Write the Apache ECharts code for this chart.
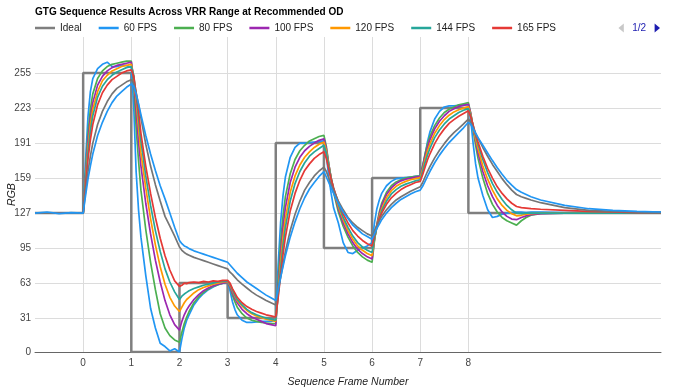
<!DOCTYPE html>
<html><head><meta charset="utf-8">
<script src="https://cdn.jsdelivr.net/npm/echarts@6/dist/echarts.min.js"></script>
<style>html,body{margin:0;padding:0;background:#fff}#c{width:675px;height:390px}</style>
</head><body><div id="c"></div>
<script>
const titleText = 'GTG Sequence Results Across VRR Range at Recommended OD';
const xTitle = 'Sequence Frame Number';
const yTitle = 'RGB';
const xTicks = [0,1,2,3,4,5,6,7,8];
const yTicks = [0,31,63,95,127,159,191,223,255];
const seriesNames = ['Ideal','60 FPS','80 FPS','100 FPS','120 FPS','144 FPS','165 FPS','200 FPS','240 FPS'];

const idealX = [-1,0,0,1,1,2,2,3,3,4,4,5,5,6,6,7,7,8,8,12];
const idealY = [127,127,255,255,0,0,63,63,31,31,191,191,95,95,159,159,223,223,127,127];

const T = [-1,-0.75,-0.5,-0.25,
0,0.05,0.1,0.15,0.2,0.3,0.4,0.5,0.6,0.7,0.8,0.9,
1,1.05,1.1,1.15,1.2,1.3,1.4,1.5,1.6,1.7,1.8,1.9,
2,2.05,2.1,2.15,2.2,2.3,2.4,2.5,2.6,2.7,2.8,2.9,
3,3.05,3.1,3.15,3.2,3.3,3.4,3.5,3.6,3.7,3.8,3.9,
4,4.05,4.1,4.15,4.2,4.3,4.4,4.5,4.6,4.7,4.8,4.9,
5,5.05,5.1,5.15,5.2,5.3,5.4,5.5,5.6,5.7,5.8,5.9,
6,6.05,6.1,6.15,6.2,6.3,6.4,6.5,6.6,6.7,6.8,6.9,
7,7.05,7.1,7.15,7.2,7.3,7.4,7.5,7.6,7.7,7.8,7.9,
8,8.05,8.1,8.15,8.2,8.3,8.4,8.5,8.6,8.7,8.8,8.9,
9,9.1,9.2,9.3,9.5,10,10.5,11,11.5,12];

const fps60 = [127,127,127,127,
127,175,215,238,250,259,263,265,261,261,262,262,
260,225,165,130,105,70,40,22,8,5,1,3,
0,12,22,29,34,43,49,53.5,57,59.5,61.5,63,
64,56,46,39,34,29,27,27,27.5,28,28,28,
29,80,118,143,160,178,187,191,191,191.5,192,192.5,
193,180,160,145,132,118,100,91,90,93,95,97,
100,118,131,139,145,152,156,158.5,159,159.5,160,160.5,
161,170,180,192,201,213,220,224,225,225,225.5,226,
226,212,190,172,159,143,130,123,124,126,127,127.5,
128,128,127.5,128,128,127.5,128,127.5,127.5,128];

const fps80 = [127,127,127,127,
127,165,200,222,236,250,257,261,263,264,265,266,
266,245,205,175,148,112,82,57,35,22,15,11,
9,18,26,32,37,45,50.5,54.5,57.5,60,61.5,63,
64,59,52,46,41,35,31,29,28,27,26.5,26,
26,65,100,124,142,163,176,184,189,193,195,197,
198,188,172,158,146,128,115,105,97,91,87,84,
82,102,117,128,136,146,152,155.5,157.5,159,160,160.5,
161,170,181,190,197,207,214,219,222,224,226,227,
228,218,203,189,177,159,145,135,128,123,120,118,
116,120,123,125,126.5,127,127,127,127,127];

const fps100 = [127,127,127,127,
127,160,193,214,228,244,252,257,260,262,263,264,
265,250,220,192,170,136,108,84,64,47,34,25,
20,28,34,38.5,42,48,52.5,56,58.5,60.5,62,63,
64,60,54,49,45,39,35,32,30,28,26,25,
24,58,90,114,132,155,169,178,184,188,191,193.5,
195,186,172,159,148,131,118,108,100,94,90,87,
85,103,116,126,134,144,150,154,156.5,158,159,160,
160.5,169,179,187,194,204,211,216,220,222.5,224.5,225.5,
226.5,218,205,193,182,165,152,142,134,128,124,121.5,
121,123,124.5,125.5,126.5,127,127,127,127,127];

const fps120 = [127,127,127,127,
127,157,187,208,222,238,248,253,257,259,261,262,
263,252,230,205,182,150,122,98,78,62,50,42,
37,41,45,48,50,54,57,59,60.5,62,63,64,
64.5,61,56,51,47,42,38,35,33,31.5,30,29,
28,55,83,105,122,146,161,171,178,183,187,190,
192,184,171,159,149,133,121,111,103,97,93,90,
88,103,115,124,131,141,147.5,151.5,154,156,157.5,158.5,
159.5,167,176,184,190,200,207,212.5,216.5,219.5,221.5,223,
224.5,217,206,195,186,170,158,148,140,134,129.5,126.5,
124.5,125,126,126.5,127,127,127,127,127,127];

const fps144 = [127,127,127,127,
127,155,182,202,216,233,243,249,253,256,258,260,
261,253,235,214,193,161,134,111,92,76,64,55,
48,51,53,54.5,56,58,59.5,61,62,63,64,64.5,
65,62,57,52,48,43,39,36,34,32.5,31,30,
29,52,76,97,114,138,154,165,173,179,183,186,
189,182,170,159,150,135,123,114,106,100,96,93,
91,104,114,122,129,138,144.5,148.5,151.5,153.5,155,156.5,
157.5,165,173,180,186,196,203,208.5,213,216,219,221,
222.5,216,207,198,190,176,164,154,146,139.5,134,130,
127,126.5,127,127,127,127,127,127,127,127];

const fps165 = [127,127,127,127,
127,152,176,194,208,226,237,244,249,252,255,257,
258,252,237,220,200,170,145,123,104,88,75,65,
60,61,63,62.5,63.5,64,63.5,64.5,64,65,64.5,65.5,
65.5,63,58,54,50,45,41.5,39,37,35.5,34,33,
32,50,70,89,105,129,145,157,166,172,177,180.5,
183,177,167,158,150,137,126,118,111,106,102,99,
97,107,115,122,127,135,141,145,148.5,151,153,155,
156,162,169,175.5,181,190.5,198,204,209,212.5,215.5,218,
220.5,215,207,199,192,179,168,159,151,145,140,136,
133,132,131.5,131,130.5,129.5,128.5,128,127.5,127.5];

const fps200 = [127,127,127,127,
127,147,165,179,191,208,220,229,236,241,244,247,
249,246,237,226,214,190,170,153,138,124,115,106,
96,93,91,89.5,88.5,86.5,85,83.5,82,80.5,79,77.5,
76,73,71,68.5,66,62,58.5,55,52,49.5,47,45,
43,55,68,80,92,111,126,138,148,155,161,165.5,
169,165,159,153,148,138,130,123,118,114,111,108,
106,111,116,120,124,130,135,139,142,144.5,147,149,
151,155,160,165,169.5,177.5,184.5,190.5,196,200.5,204.5,208.5,
213,210,205,200,195.5,187,179,171.5,165,158.5,153,148,
144,142,140.5,139,136.5,132,129.5,128.5,128,127.5];

const fps240 = [127,128,126.5,127.5,
127,143,158,170,181,198,210,220,228,234,238,242,
245,243,236,227,217,198,181,166,152,140,127,114,
102,99,97,96,94.5,92.5,91,89.5,88,86.5,85,83.5,
82,79.5,77,74.5,72,68,64,61,58,55,52,49.5,
47,57,68,78,88,105,119,131,141,149,155,160.5,
165,160,155,150,145,136,128,122,116,112,108,105.5,
103,108,113,117,121,127,132,136,139.5,142,144.5,146.5,
148,151.5,156,160.5,165,173,180,186,191.5,196,200.5,205,
210,208,204,200,196,189,182,175,168.5,162.5,157,152.5,
148.5,146,144,142,139,134,131,129.5,128.5,128];

const measured = [fps60,fps80,fps100,fps120,fps144,fps165,fps200,fps240];
const colors = ['#2196f3','#4caf50','#9c27b0','#ff9800','#26a69a','#e53935','#757575','#2196f3'];
const FONT = 'Arial, "Liberation Sans", sans-serif';

const gridLines = {
  type:'line', data:[], silent:true, showSymbol:false,
  markLine:{
    silent:true, symbol:['none','none'], z:1, animation:false,
    label:{show:false},
    lineStyle:{color:'#dcdcdc', type:'solid', width:1},
    emphasis:{disabled:true},
    data: yTicks.filter(v=>v>0).map(v=>({yAxis:v})).concat(xTicks.map(v=>({xAxis:v})))
  }
};

const series = [gridLines, {
  name:'Ideal', type:'line', symbol:'none', z:2,
  data: idealX.map((x,i)=>[x, idealY[i]]),
  lineStyle:{color:'#7f7f7f', width:2.5}, itemStyle:{color:'#7f7f7f'}
}];
measured.forEach((arr,k)=>{
  series.push({
    name: seriesNames[k+1], type:'line', symbol:'none', z:2,
    data: T.map((t,i)=>[t, arr[i]]),
    lineStyle:{color:colors[k], width:1.7}, itemStyle:{color:colors[k]}
  });
});

const chart = echarts.init(document.getElementById('c'), null, {renderer:'canvas'});
chart.setOption({
  animation:false,
  backgroundColor:'#fff',
  title:{text:titleText, left:30, top:2, textStyle:{fontFamily:FONT, fontSize:10, fontWeight:'bold', color:'#000'}},
  legend:{
    type:'scroll', data:seriesNames, left:30, width:625, top:18,
    icon:'rect', itemWidth:20, itemHeight:2.5, itemGap:17,
    textStyle:{fontFamily:FONT, fontSize:10, color:'#222'},
    pageIconSize:9, pageIconColor:'#1c1cb0', pageIconInactiveColor:'#c8c8c8',
    pageTextStyle:{fontFamily:FONT, fontSize:10, color:'#1c1cb0'}, pageButtonItemGap:4, pageButtonGap:55
  },
  grid:{left:35, right:14, top:37, bottom:38, containLabel:false, outerBoundsMode:'none'},
  xAxis:{
    type:'value', min:-1, max:12,
    name:xTitle, nameLocation:'middle', nameGap:25, nameMoveOverlap:false,
    nameTextStyle:{fontFamily:FONT, fontSize:10.5, fontStyle:'italic', color:'#222'},
    axisLine:{show:true, onZero:false, lineStyle:{color:'#666', width:1}},
    axisTick:{show:false},
    axisLabel:{customValues:xTicks, margin:6, fontFamily:FONT, fontSize:10, color:'#444'},
    splitLine:{show:false}
  },
  yAxis:{
    type:'value', min:0, max:288,
    name:yTitle, nameLocation:'middle', nameGap:17, nameMoveOverlap:false,
    nameTextStyle:{fontFamily:FONT, fontSize:10.5, fontStyle:'italic', color:'#222'},
    axisLine:{show:false}, axisTick:{show:false},
    axisLabel:{customValues:yTicks, margin:4, fontFamily:FONT, fontSize:10, color:'#444'},
    splitLine:{show:false}
  },
  series: series
});
</script></body></html>
